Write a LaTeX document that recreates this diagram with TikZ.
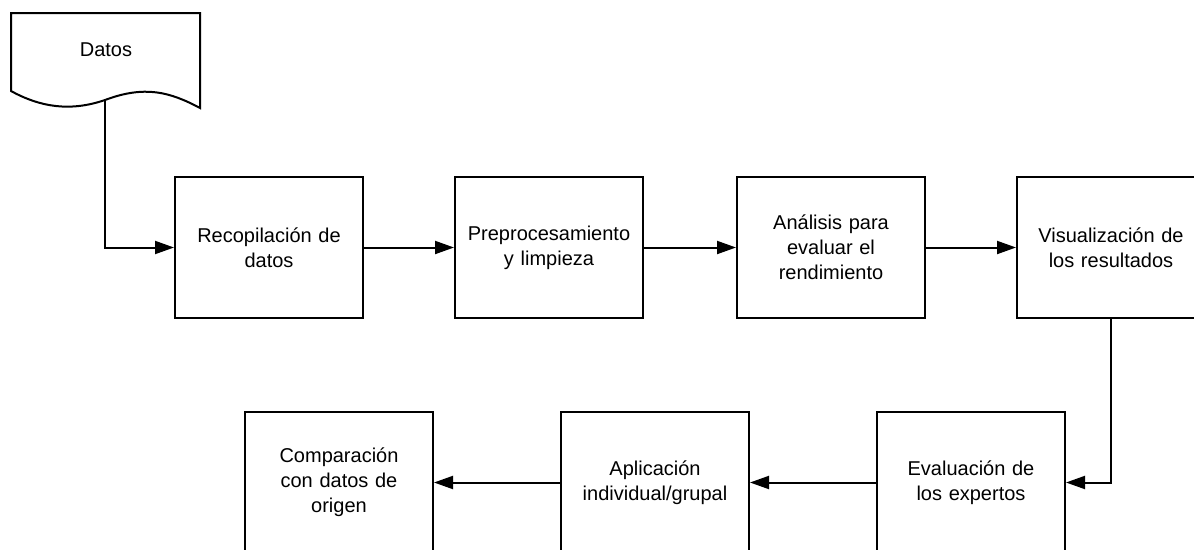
\documentclass[tikz,border=0pt]{standalone}
\usepackage{fontspec}
\setmainfont{Liberation Sans}
\usetikzlibrary{arrows.meta}
\begin{document}
\begin{tikzpicture}[x=1pt,y=-1pt,
  box/.style={draw=black,line width=2pt,minimum width=188pt,minimum height=141pt,
    text width=184pt,align=center,inner sep=0pt,
    font=\fontsize{20}{25}\selectfont},
  conn/.style={line width=2pt,-{Triangle[length=19pt,width=13pt]}}]
\clip (0,0) rectangle (1194,549);
\fill[white] (0,0) rectangle (1194,549);
% document shape
\draw[line width=2pt,line join=miter] (11,13) -- (200,13) -- (200,108)
  .. controls (170,92) and (145,85) .. (105,100)
  .. controls (70,112) and (40,107) .. (11,91) -- cycle;
\node[font=\fontsize{20}{25}\selectfont] (datos) at (106,50) {Datos};
\coordinate (dbot) at (105,100);
% boxes
\node[box] (b1) at (269,247.5) {Recopilación de\\datos};
\node[box] (b2) at (549,247.5) {Preprocesamiento\\y limpieza};
\node[box] (b3) at (831,247.5) {Análisis para\\evaluar el\\rendimiento};
\node[box] (b4) at (1111,247.5) {Visualización de\\los resultados};
\node[box] (b5) at (971,482.5) {Evaluación de\\los expertos};
\node[box] (b6) at (655,482.5) {Aplicación\\individual/grupal};
\node[box] (b7) at (339,482.5) {Comparación\\con datos de\\origen};
% connectors
\draw[conn] (dbot) |- (b1.west);
\draw[conn] (b1) -- (b2);
\draw[conn] (b2) -- (b3);
\draw[conn] (b3) -- (b4);
\draw[conn] (b4.south) |- (b5.east);
\draw[conn] (b5) -- (b6);
\draw[conn] (b6) -- (b7);
\end{tikzpicture}
\end{document}
